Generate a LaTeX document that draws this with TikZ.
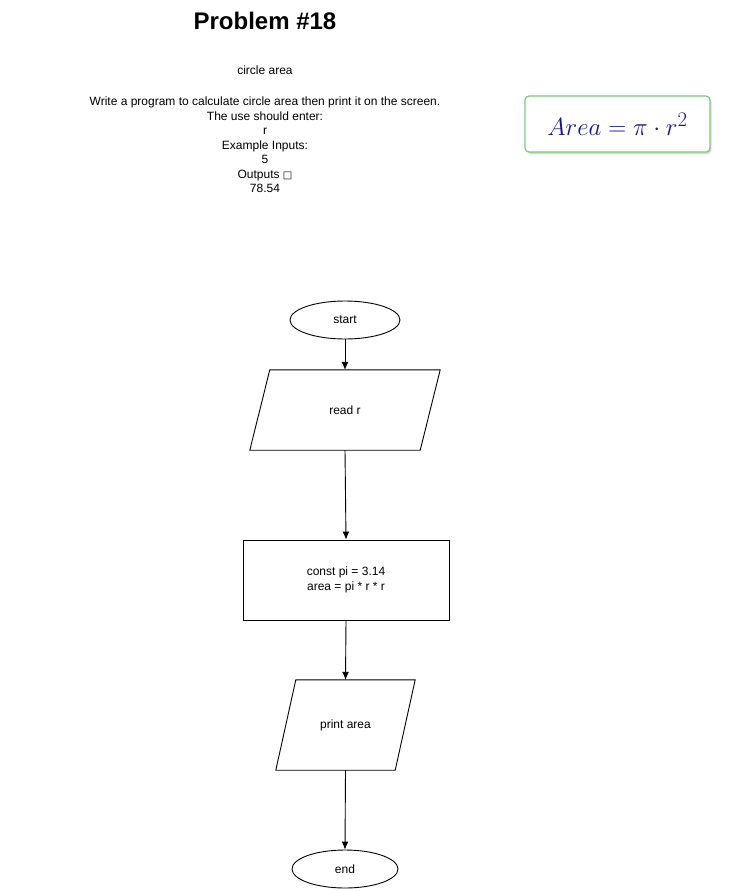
\documentclass[tikz,border=0pt]{standalone}
\usepackage[no-math]{fontspec}
\setmainfont{Liberation Sans}
\newfontfamily\symfont{DejaVu Sans}
\usetikzlibrary{shapes.geometric,arrows.meta,shadows}
\definecolor{boxgreen}{RGB}{120,205,120}
\definecolor{mathblue}{RGB}{20,20,150}
\tikzset{
  x=1pt,y=-1pt,
  txt/.style={font=\fontsize{12}{14}\selectfont, inner sep=0pt, align=center},
  term/.style={ellipse, draw, line width=0.9pt, minimum width=110pt, minimum height=38pt, inner sep=0pt, font=\fontsize{12}{14}\selectfont},
  proc/.style={rectangle, draw, line width=0.9pt, minimum width=206pt, minimum height=80pt, inner sep=0pt, align=center, font=\fontsize{12}{15}\selectfont},
  iobox/.style={rectangle, inner sep=0pt, font=\fontsize{12}{14}\selectfont},
  para/.style={line width=0.9pt},
  flow/.style={line width=0.9pt, -{Latex[length=8pt,width=7pt]}},
}
\begin{document}
\begin{tikzpicture}
\useasboundingbox[fill=white] (0,0) rectangle (730,891);
% header texts
\node[txt, font=\fontsize{24}{28}\bfseries] (title) at (265,21) {Problem \#18};
\node[txt] (sub) at (265,70) {circle area};
\node[txt, font=\fontsize{12}{14.5}\selectfont, anchor=north] (desc) at (265,97) {Write a program to calculate circle area then print it on the screen.\\
The use should enter:\\
r\\
Example Inputs:\\
5\\
Outputs {\symfont\fontsize{10}{12}\selectfont □}\\
78.54};
% formula box
\node[draw=boxgreen, line width=1.2pt, rounded corners=4pt, fill=white,
      drop shadow={shadow xshift=1.5pt, shadow yshift=-2pt, opacity=0.3},
      minimum width=185pt, minimum height=56pt, inner sep=0pt,
      text=mathblue, font=\fontsize{27.5}{32}\selectfont] (formula) at (617.5,124)
  {$Area=\pi\cdot r^2$};
% flowchart
\node[term] (start) at (345,320) {start};
\node[iobox, minimum width=190pt, minimum height=80pt] (read) at (345,410) {read r};
\draw[para] ([xshift=20pt]read.north west) -- (read.north east) -- ([xshift=-20pt]read.south east) -- (read.south west) -- cycle;
\node[proc] (calc) at (346,580) {const pi = 3.14\\area = pi * r * r};
\node[iobox, minimum width=139pt, minimum height=90pt] (print) at (345.5,725) {print area};
\draw[para] ([xshift=20pt]print.north west) -- (print.north east) -- ([xshift=-20pt]print.south east) -- (print.south west) -- cycle;
\node[term, minimum width=106pt] (end) at (345,869) {end};
\draw[flow] (start.south) -- (read.north);
\draw[flow] (read.south) -- (calc.north);
\draw[flow] (calc.south) -- (print.north);
\draw[flow] (print.south) -- (end.north);
\end{tikzpicture}
\end{document}
